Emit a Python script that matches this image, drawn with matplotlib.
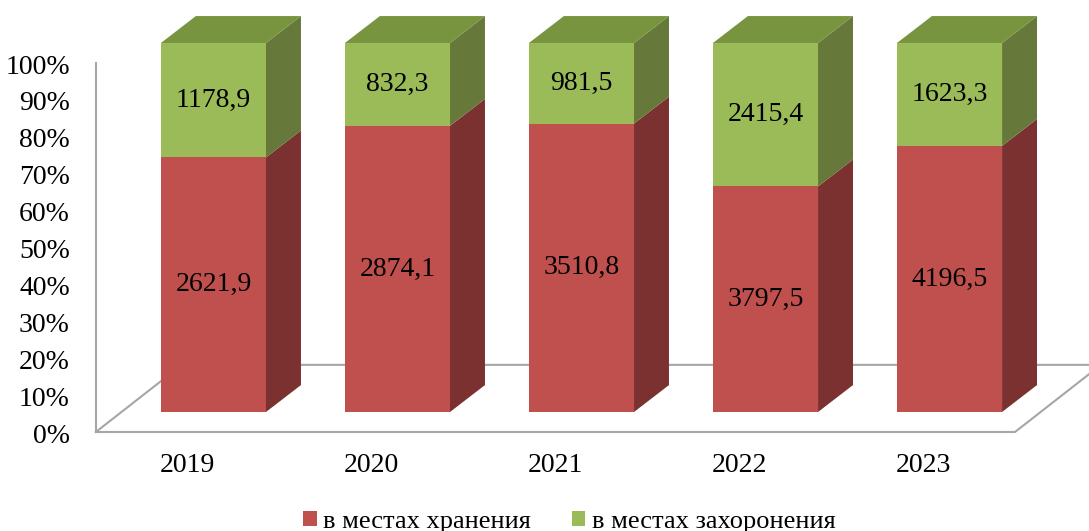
import matplotlib
matplotlib.use("Agg")
import matplotlib.pyplot as plt
from matplotlib.patches import Polygon, Patch

# data
years = ["2019", "2020", "2021", "2022", "2023"]
storage = [2621.9, 2874.1, 3510.8, 3797.5, 4196.5]   # в местах хранения
burial = [1178.9, 832.3, 981.5, 2415.4, 1623.3]      # в местах захоронения
ticks = [0, 10, 20, 30, 40, 50, 60, 70, 80, 90, 100]

RED, RED_SIDE = "#C0504D", "#7B3130"
GREEN, GREEN_SIDE, GREEN_TOP = "#9BBB59", "#66793A", "#78943F"
GRID = "#A6A6A6"

plt.rcParams["font.family"] = ["Liberation Serif", "DejaVu Serif"]

fig = plt.figure(figsize=(10.89, 5.31), dpi=100)
ax = fig.add_axes([0, 0, 1, 1])
# x in category units, y in percent of the front face
ax.set_xlim(-1.160, 4.758)
ax.set_ylim(-32.25, 111.65)
ax.axis("off")

W = 0.571          # bar width
DX, DY = 0.19, 7.3  # bar depth
FY = -5.42          # floor front level
FDX, FDY = 0.467, 18.2
x0, x1 = -0.639, 4.356

# floor and wall axis
ax.plot([x0, x1, x1 + FDX], [FY, FY, FY + FDY], color=GRID, lw=1.5, zorder=1)
ax.plot([x0, x0 + FDX, x1 + FDX + 1], [FY, FY + FDY, FY + FDY], color=GRID, lw=1.5, zorder=1)
ax.plot([x0, x0], [FY, 100 + FY], color=GRID, lw=1.5, zorder=1)

for t in ticks:
    ax.text(-0.78, t + FY - 1.1, f"{t}%", ha="right", va="center", fontsize=20)

for i, (s, b) in enumerate(zip(storage, burial)):
    tot = s + b
    p = s / tot * 100
    xl, xr = i - W / 2, i + W / 2
    # red segment
    ax.add_patch(Polygon([(xl, 0), (xr, 0), (xr, p), (xl, p)], closed=True, fc=RED, ec="none", zorder=3))
    ax.add_patch(Polygon([(xr, 0), (xr + DX, DY), (xr + DX, p + DY), (xr, p)], closed=True, fc=RED_SIDE, ec="none", zorder=3))
    # green segment
    ax.add_patch(Polygon([(xl, p), (xr, p), (xr, 100), (xl, 100)], closed=True, fc=GREEN, ec="none", zorder=3))
    ax.add_patch(Polygon([(xr, p), (xr + DX, p + DY), (xr + DX, 100 + DY), (xr, 100)], closed=True, fc=GREEN_SIDE, ec="none", zorder=3))
    ax.add_patch(Polygon([(xl, 100), (xl + DX, 100 + DY), (xr + DX, 100 + DY), (xr, 100)], closed=True, fc=GREEN_TOP, ec="none", zorder=3))
    ax.text(i, p / 2, f"{s:.1f}".replace(".", ","), ha="center", va="center", fontsize=20, zorder=4)
    ax.text(i, (p + 100) / 2, f"{b:.1f}".replace(".", ","), ha="center", va="center", fontsize=20, zorder=4)
    ax.text(i - 0.141, FY - 9, years[i], ha="center", va="center", fontsize=20)

handles = [Patch(fc=RED, ec="none"), Patch(fc=GREEN, ec="none")]
fig.legend(handles, ["в местах хранения", "в местах захоронения"], loc="lower center",
           bbox_to_anchor=(0.523, -0.048), ncol=2, frameon=False, fontsize=19,
           handlelength=0.5, handleheight=0.5, handletextpad=0.25, columnspacing=1.55)

fig.savefig("out.png", dpi=100)
